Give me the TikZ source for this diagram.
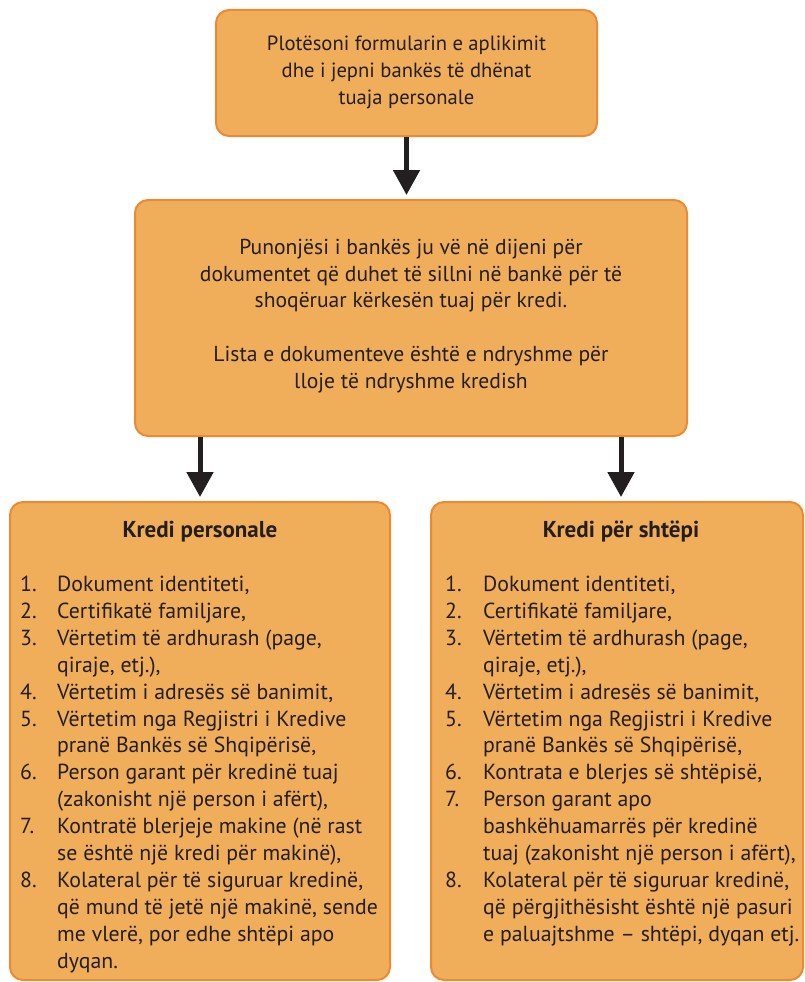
\documentclass[tikz,border=0pt]{standalone}
\usepackage{fontspec}
\setmainfont{PT Sans}
\usetikzlibrary{arrows.meta}
\definecolor{boxfill}{RGB}{240,173,90}
\definecolor{boxline}{RGB}{236,138,52}
\definecolor{ink}{RGB}{35,31,32}
\tikzset{
  flowbox/.style={draw=boxline, fill=boxfill, line width=2pt, rounded corners=13pt, inner sep=0pt},
  boxtext/.style={text=ink, font=\fontsize{21.6}{26.9}\selectfont, align=center, inner sep=0pt},
  toptext/.style={boxtext, font=\fontsize{20.6}{26.9}\selectfont},
  listtext/.style={text=ink, font=\fontsize{21.8}{26.9}\selectfont, inner sep=0pt, anchor=base west},
  titletext/.style={text=ink, font=\fontsize{23}{26.9}\selectfont\bfseries, inner sep=0pt, anchor=base},
  flowarrow/.style={draw=ink, line width=5pt, -{Triangle[width=26pt,length=25pt]}, shorten >=4pt}
}
\begin{document}
\begin{tikzpicture}[x=1pt,y=-1pt]
\useasboundingbox (0,0) rectangle (805,982);
\node[flowbox, minimum width=381pt, minimum height=126pt] (top) at (406.5,73) {};
\node[toptext] (toptext) at (406.5,72) {Plotësoni formularin e aplikimit\\dhe i jepni bankës të dhënat\\tuaja personale};
\node[flowbox, minimum width=552pt, minimum height=236pt] (mid) at (411,318) {};
\node[boxtext] (midtext) at (411,316) {Punonjësi i bankës ju vë në dijeni për\\dokumentet që duhet të sillni në bankë për të\\shoqëruar kërkesën tuaj për kredi.\\[26.9pt]Lista e dokumenteve është e ndryshme për\\lloje të ndryshme kredish};
\node[flowbox, minimum width=380pt, minimum height=478pt] (lbox) at (200,741) {};
\node[flowbox, minimum width=372pt, minimum height=478pt] (rbox) at (617,741) {};
\node[titletext] (ltitle) at (200,537.5) {Kredi personale};
\node[titletext] (rtitle) at (621,537.5) {Kredi për shtëpi};
\renewcommand{\arraystretch}{1}
\node[listtext] (llist) at (20,591.5) {\begin{tabular}[t]{@{}p{37pt}@{}l@{}}
1. & Dokument identiteti,\\
2. & Certifikatë familjare,\\
3. & Vërtetim të ardhurash (page,\\
   & qiraje, etj.),\\
4. & Vërtetim i adresës së banimit,\\
5. & Vërtetim nga Regjistri i Kredive\\
   & pranë Bankës së Shqipërisë,\\
6. & Person garant për kredinë tuaj\\
   & (zakonisht një person i afërt),\\
7. & Kontratë blerjeje makine (në rast\\
   & se është një kredi për makinë),\\
8. & Kolateral për të siguruar kredinë,\\
   & që mund të jetë një makinë, sende\\
   & me vlerë, por edhe shtëpi apo\\
   & dyqan.
\end{tabular}};
\node[listtext] (rlist) at (445,591.5) {\begin{tabular}[t]{@{}p{38pt}@{}l@{}}
1. & Dokument identiteti,\\
2. & Certifikatë familjare,\\
3. & Vërtetim të ardhurash (page,\\
   & qiraje, etj.),\\
4. & Vërtetim i adresës së banimit,\\
5. & Vërtetim nga Regjistri i Kredive\\
   & pranë Bankës së Shqipërisë,\\
6. & Kontrata e blerjes së shtëpisë,\\
7. & Person garant apo\\
   & bashkëhuamarrës për kredinë\\
   & tuaj (zakonisht një person i afërt),\\
8. & Kolateral për të siguruar kredinë,\\
   & që përgjithësisht është një pasuri\\
   & e paluajtshme – shtëpi, dyqan etj.
\end{tabular}};
\draw[flowarrow] (top.south) -- (mid.north -| top.south);
\draw[flowarrow] (mid.south -| lbox.north) -- (lbox.north);
\draw[flowarrow] (mid.south -| rtitle.base) -- (rbox.north -| rtitle.base);
\end{tikzpicture}
\end{document}
